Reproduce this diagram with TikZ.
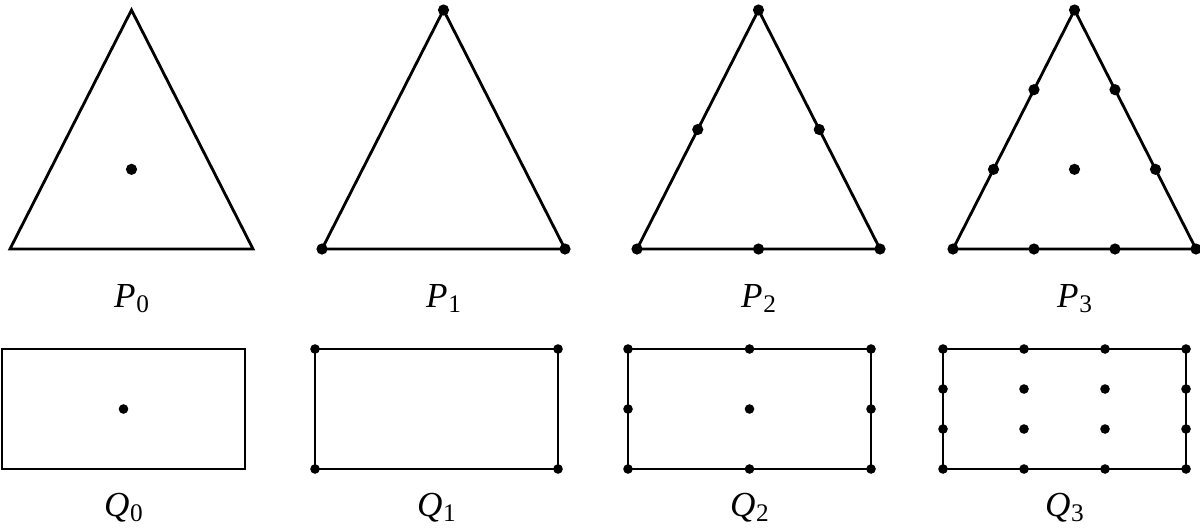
\documentclass[tikz,border=0pt]{standalone}
\usepackage{fontspec}
\setmainfont{Liberation Serif}
\usetikzlibrary{positioning, calc}
\newcommand{\idx}[2]{\textit{#1}\kern0.5pt\raisebox{-0.35ex}{\fontsize{18}{18}\selectfont #2}}
\tikzset{
	dot/.style={
		circle, fill=black, inner sep=0pt,
		minimum size=#1,
	},
	dot/.default=0.28cm,
	shapename/.style={
		anchor=base, inner sep=0pt,
		font=\fontsize{25}{29}\selectfont,
	}
}

\begin{document}
\begin{tikzpicture}[x=0.025cm, y=-0.025cm, line width=2pt]
\useasboundingbox (0,0) rectangle (1200,527);

% triangles P_n
\foreach \n/\x in {0/10, 1/322, 2/637, 3/953} {
	\coordinate (a\n) at (\x,249);
	\coordinate (b\n) at (\x+243,249);
	\coordinate (c\n) at (\x+121.5,10);
	\draw (a\n) -- (b\n) -- (c\n) -- cycle;
	\node [shapename] (p\n) at (\x+121.5,307) {\idx{P}{\n}};
}
\node [dot] (p0-c) at (barycentric cs:a0=1,b0=1,c0=1) {};
\foreach \n in {1,2,3}
	\foreach \i in {0,...,\n} {
		\pgfmathtruncatemacro{\m}{\n-\i}
		\foreach \j in {0,...,\m} {
			\pgfmathtruncatemacro{\k}{\n-\i-\j}
			\node [dot] (p\n-\i-\j) at (barycentric cs:a\n=\k,b\n=\i,c\n=\j) {};
		}
	}

% rectangles Q_n
\foreach \n/\x in {0/2, 1/315, 2/628, 3/943} {
	\coordinate (s\n) at (\x,349);
	\coordinate (t\n) at (\x+243,469);
	\draw (s\n) rectangle (t\n);
	\node [shapename] (q\n) at (\x+121.5,516) {\idx{Q}{\n}};
}
\node [dot=0.24cm] (q0-c) at ($(s0)!0.5!(t0)$) {};
\foreach \n/\x in {1/315, 2/628, 3/943}
	\foreach \i in {0,...,\n}
		\foreach \j in {0,...,\n}
			\node [dot=0.24cm] (q\n-\i-\j) at ({\x+\i*243/\n},{349+\j*120/\n}) {};
\end{tikzpicture}
\end{document}
